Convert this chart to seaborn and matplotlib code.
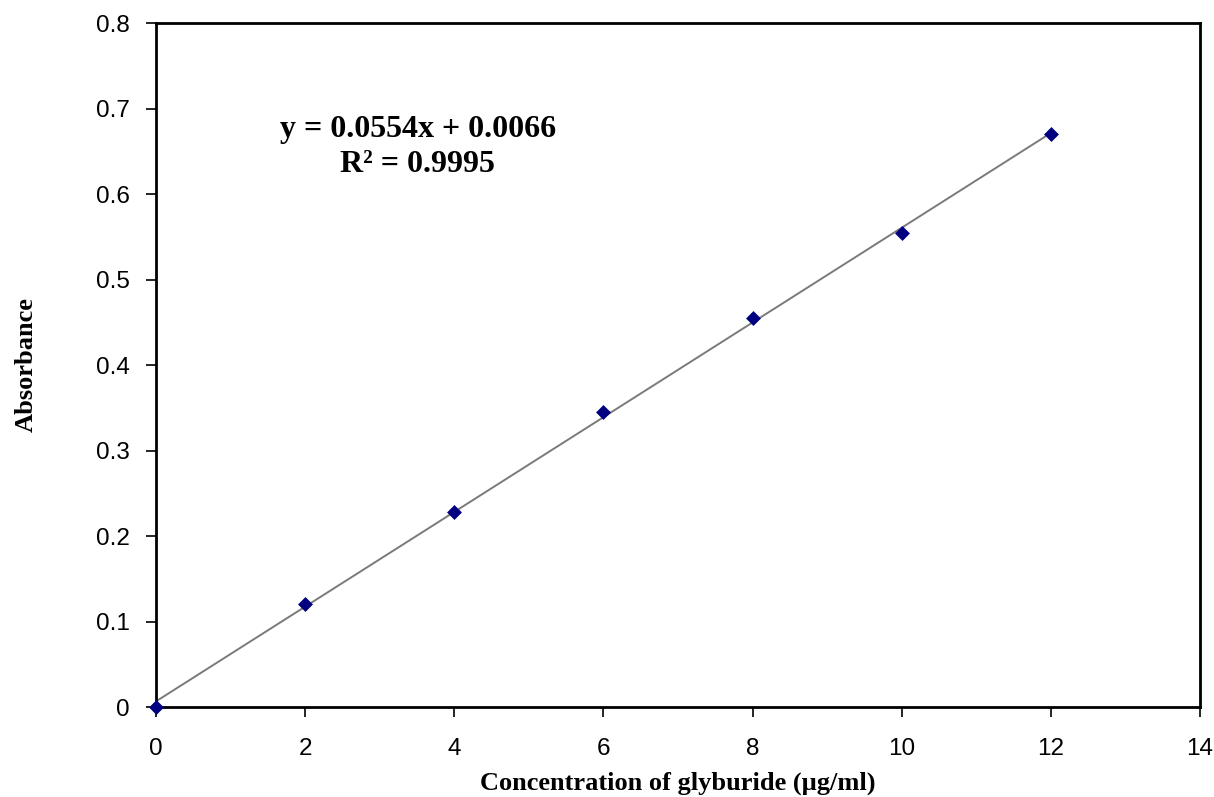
import numpy as np
import pandas as pd
import matplotlib
matplotlib.use("Agg")
import matplotlib.pyplot as plt
import seaborn as sns

# Calibration data for glyburide
concentration = [0, 2, 4, 6, 8, 10, 12]
absorbance = [0.0, 0.121, 0.228, 0.345, 0.455, 0.555, 0.670]

# Linear trendline parameters
slope = 0.0554
intercept = 0.0066
r_squared = 0.9995

x_ticks = [0, 2, 4, 6, 8, 10, 12, 14]
y_ticks = [0, 0.1, 0.2, 0.3, 0.4, 0.5, 0.6, 0.7, 0.8]
y_tick_labels = ["0", "0.1", "0.2", "0.3", "0.4", "0.5", "0.6", "0.7", "0.8"]

sns.set_theme(style="white")
plt.rcParams["font.family"] = ["Liberation Sans", "DejaVu Sans"]

df = pd.DataFrame({"conc": concentration, "abs": absorbance})
fit_x = [min(concentration), max(concentration)]
fit = pd.DataFrame({"conc": fit_x, "abs": [slope * v + intercept for v in fit_x]})

fig = plt.figure(figsize=(12.14, 7.97), dpi=100)
ax = fig.add_axes([0.1285, 0.1129, 0.8600, 0.8582])

sns.lineplot(data=fit, x="conc", y="abs", ax=ax, color="#7a7a7a", linewidth=1.4)
sns.scatterplot(data=df, x="conc", y="abs", ax=ax, marker="D", s=50,
                color="#000080", edgecolor="#000080", linewidth=0.5,
                clip_on=False, zorder=5)

ax.set_xlim(0, 14)
ax.set_ylim(0, 0.8)
ax.set_xticks(x_ticks)
ax.set_xticklabels([str(t) for t in x_ticks])
ax.set_yticks(y_ticks)
ax.set_yticklabels(y_tick_labels)

for side in ["left", "right", "top", "bottom"]:
    ax.spines[side].set_visible(True)
    ax.spines[side].set_color("black")
    ax.spines[side].set_linewidth(2)

ax.tick_params(axis="x", direction="out", length=7, width=1.2, color="black",
               pad=15, labelsize=17.5, labelcolor="black", bottom=True)
ax.tick_params(axis="y", direction="out", length=7, width=1.2, color="black",
               pad=12, labelsize=17.5, labelcolor="black", left=True)

serif = ["Liberation Serif", "DejaVu Serif"]
ax.set_xlabel("Concentration of glyburide (µg/ml)", fontsize=19, fontweight="bold",
              family=serif, color="black")
ax.xaxis.set_label_coords(0.5, -0.111)
ax.xaxis.label.set_verticalalignment("center")
ax.set_ylabel("Absorbance", fontsize=19, fontweight="bold", family=serif,
              labelpad=42, color="black")

ax.text(3.51, 0.675, f"y = {slope:.4f}x + {intercept:.4f}", ha="center", va="center",
        fontsize=23, fontweight="bold", family=serif, color="black")
ax.text(3.51, 0.634, f"R² = {r_squared:.4f}", ha="center", va="center",
        fontsize=23, fontweight="bold", family=serif, color="black")

fig.savefig("out.png", dpi=100, facecolor="white")
